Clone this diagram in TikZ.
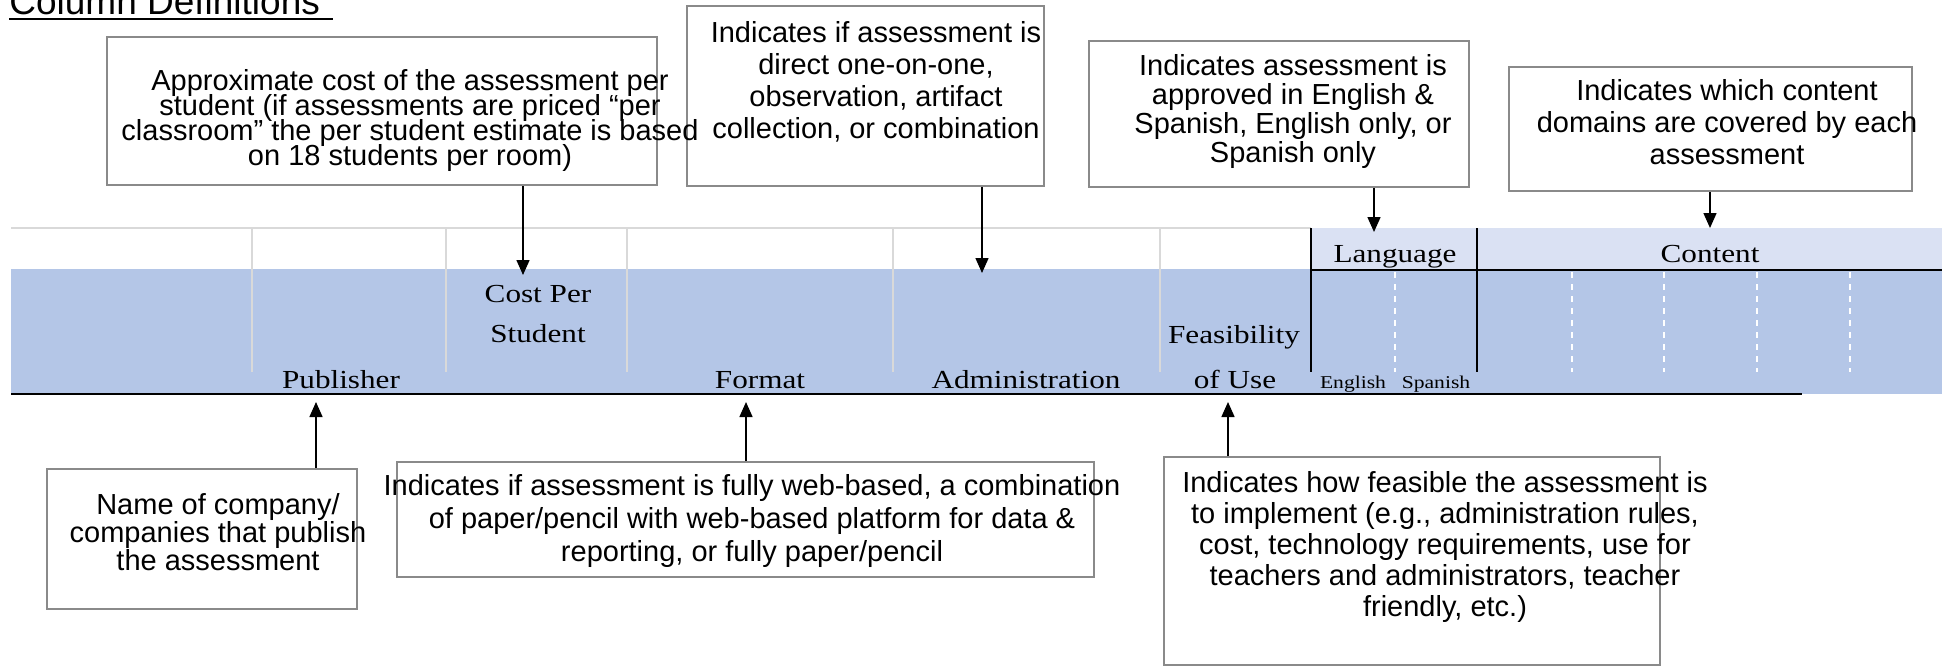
\documentclass[tikz,border=0pt]{standalone}
\usepackage{fontspec}
\setmainfont{Liberation Sans}
\newfontfamily\hdrfont[FakeStretch=1.2]{Liberation Serif}
\usetikzlibrary{arrows.meta}
\definecolor{bxgray}{HTML}{8A8A8A}
\definecolor{rowblue}{HTML}{B4C6E7}
\definecolor{hdrlav}{HTML}{DAE1F3}
\definecolor{gridgray}{HTML}{D9D9D9}
\newcommand{\boxfont}[1]{\fontsize{14.5}{#1}\selectfont\lineskiplimit=-50pt}
\tikzset{bx/.append style={draw=bxgray, line width=1pt, inner sep=0pt}}
\tikzset{tx/.append style={align=center, inner sep=0pt, anchor=north}}
\tikzset{hd/.append style={inner sep=0pt, font=\hdrfont\fontsize{13}{20}\selectfont}}
\tikzset{ar/.append style={-{Triangle[length=7.5pt,width=6.5pt]}, line width=0.75pt}}

\begin{document}
\begin{tikzpicture}[x=0.5pt,y=-0.5pt]
                \useasboundingbox (0,0) rectangle (1950,670);
                % title
                \node[anchor=base west, inner sep=0pt, font=\fontsize{18.5}{22}\selectfont] (ttl) at (9,14) {Column Definitions};
                \draw[line width=1pt] (ttl.base west) ++(0,5) -- ++(324,0);
                % table header
                \fill[rowblue] (11,269) rectangle (1942,394);
                \fill[hdrlav] (1311,228) rectangle (1942,270);
                \draw[gridgray, line width=1pt] (11,228) -- (1311,228);
                \foreach \x in {252,446,627,893,1160}
                    \draw[gridgray, line width=0.75pt] (\x,228) -- (\x,372);
                \foreach \x in {1395,1572,1664,1757,1850}
                    \draw[white, dashed, line width=0.75pt] (\x,272) -- (\x,372);
                \draw[line width=1pt] (1311,228) -- (1311,372);
                \draw[line width=1pt] (1477,228) -- (1477,372);
                \draw[line width=1pt] (1311,270) -- (1942,270);
                \draw[line width=1pt] (11,394) -- (1802,394);
                \node[hd, align=center, anchor=north] (hcost) at (538,285) {Cost Per\\Student};
                \node[hd, anchor=base] (hfeas) at (1234,343) {Feasibility};
                \node[hd, anchor=base] (hlang) at (1395,262) {Language};
                \node[hd, anchor=base] (hcont) at (1710,262) {Content};
                \node[hd, anchor=base] (hpub) at (341,388) {Publisher};
                \node[hd, anchor=base] (hfmt) at (760,388) {Format};
                \node[hd, anchor=base] (hadm) at (1026,388) {Administration};
                \node[hd, anchor=base] (huse) at (1235,388) {of Use};
                \node[hd, anchor=base, font=\hdrfont\fontsize{9}{11}\selectfont] (heng) at (1353,388) {English};
                \node[hd, anchor=base, font=\hdrfont\fontsize{9}{11}\selectfont] (hspa) at (1436,388) {Spanish};
                % boxes above
                \node[bx, minimum width=275pt, minimum height=74pt] (b1) at (382,111) {};
                \node[bx, minimum width=178.5pt, minimum height=90pt] (b2) at (865.5,96) {};
                \node[bx, minimum width=190pt, minimum height=73pt] (b4) at (1279,114) {};
                \node[bx, minimum width=201.5pt, minimum height=62pt] (b5) at (1710.5,129) {};
                \node[tx, font={\boxfont{12.5}}] (t1) at (410,69) {Approximate cost of the assessment per\\student (if assessments are priced “per\\classroom” the per student estimate is based\\on 18 students per room)};
                \node[tx, font={\boxfont{16}}] (t2) at (876,21) {Indicates if assessment is\\direct one-on-one,\\observation, artifact\\collection, or combination};
                \node[tx, font={\boxfont{14.5}}] (t4) at (1293,54) {Indicates assessment is\\approved in English \&\\Spanish, English only, or\\Spanish only};
                \node[tx, font={\boxfont{16}}] (t5) at (1727,79) {Indicates which content\\domains are covered by each\\assessment};
                % boxes below
                \node[bx, minimum width=155pt, minimum height=70pt] (b6) at (202,539) {};
                \node[bx, minimum width=348.5pt, minimum height=57.5pt] (b7) at (745.5,519.5) {};
                \node[bx, minimum width=248pt, minimum height=104pt] (b8) at (1412,561) {};
                \node[tx, font={\boxfont{14}}] (t6) at (218,493) {Name of company/\\companies that publish\\the assessment};
                \node[tx, font={\boxfont{16.5}}] (t7) at (752,474) {Indicates if assessment is fully web-based, a combination\\of paper/pencil with web-based platform for data \&\\reporting, or fully paper/pencil};
                \node[tx, font={\boxfont{15.5}}] (t8) at (1445,471) {Indicates how feasible the assessment is\\to implement (e.g., administration rules,\\cost, technology requirements, use for\\teachers and administrators, teacher\\friendly, etc.)};
                % arrow ends
                \coordinate (pC) at (523,275);
                \coordinate (pA) at (982,273);
                \coordinate (pL) at (1374,232);
                \coordinate (pK) at (1710,228);
                \coordinate (pP) at (316,402);
                \coordinate (pF) at (746,402);
                \coordinate (pU) at (1228,402);
                \draw[ar] (b1.south -| pC) -- (pC);
                \draw[ar] (b2.south -| pA) -- (pA);
                \draw[ar] (b4.south -| pL) -- (pL);
                \draw[ar] (b5.south -| pK) -- (pK);
                \draw[ar] (b6.north -| pP) -- (pP);
                \draw[ar] (b7.north -| pF) -- (pF);
                \draw[ar] (b8.north -| pU) -- (pU);
\end{tikzpicture}
\end{document}
